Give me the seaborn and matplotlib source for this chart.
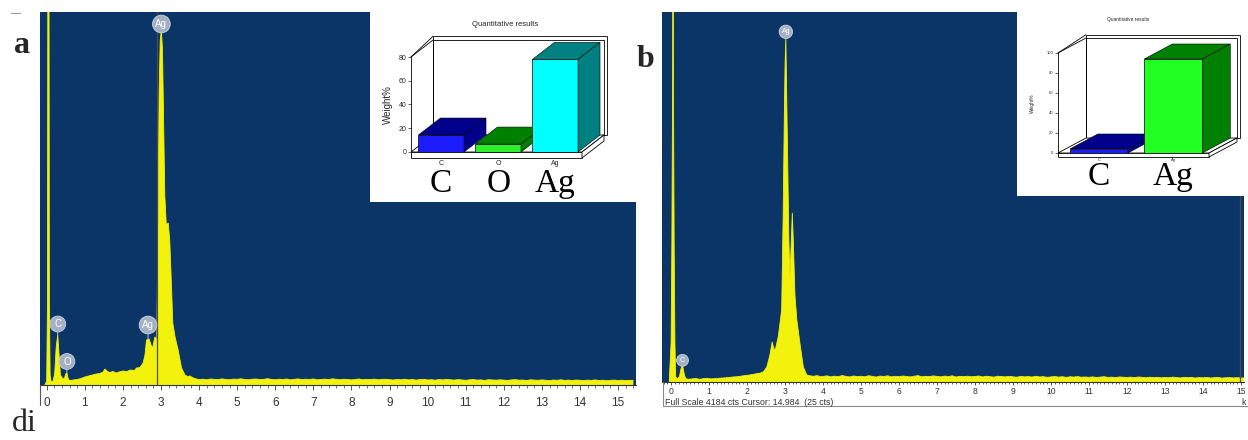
import numpy as np
import matplotlib.pyplot as plt
import matplotlib.font_manager as fm
import matplotlib.transforms as mtransforms
from matplotlib.lines import Line2D
from matplotlib.patches import Polygon, Rectangle
from matplotlib.ticker import MultipleLocator
import seaborn as sns

# ── Data: spectrum a (keV, counts) ────────────────────────────────────────────
energy_a_peak = [-0.05, 0.00, 0.02, 0.035, 0.055, 0.07, 0.09, 0.12, 0.17, 0.21, 0.25, 0.29,
                 0.32, 0.36, 0.41, 0.46, 0.50, 0.53, 0.57, 0.62, 0.70, 0.80, 0.90, 1.00,
                 1.10, 1.20, 1.30, 1.40, 1.48, 1.53, 1.58, 1.65, 1.74, 1.82, 1.90, 2.00,
                 2.10, 2.20, 2.30, 2.36, 2.45, 2.53, 2.58, 2.62, 2.69, 2.74, 2.78, 2.84,
                 2.89, 2.92, 2.95, 2.98, 3.01, 3.04, 3.07, 3.10, 3.14, 3.19, 3.23, 3.27,
                 3.31, 3.37, 3.45, 3.54, 3.63, 3.70, 3.76, 3.85, 3.93]
counts_a_peak = [0, 40, 800, 6000, 6000, 800, 100, 30, 40, 120, 380, 500,
                 330, 100, 70, 60, 110, 120, 55, 45, 50, 55, 65, 80,
                 90, 100, 110, 115, 130, 160, 140, 125, 135, 120, 130, 140,
                 135, 150, 145, 170, 175, 220, 300, 450, 460, 400, 370, 480,
                 450, 1500, 2900, 3450, 3550, 3350, 2600, 1900, 1600, 1620, 1450, 1050,
                 620, 480, 350, 170, 100, 85, 90, 70, 60]
# background channels 4.0 .. 15.4 keV every 0.1 keV
energy_a_bg = np.round(np.arange(4.0, 15.45, 0.1), 2)
counts_a_bg = [55, 58, 52, 60, 57, 54, 61, 56, 53, 59,
               57, 62, 55, 52, 58, 60, 54, 57, 63, 56,
               53, 58, 55, 60, 52, 57, 61, 54, 58, 55,
               60, 52, 56, 59, 54, 62, 57, 53, 58, 55,
               51, 56, 60, 53, 57, 54, 59, 52, 56, 58,
               53, 50, 56, 52, 58, 51, 55, 49, 54, 57,
               50, 53, 48, 55, 51, 56, 52, 49, 54, 50,
               47, 52, 55, 49, 51, 46, 53, 50, 48, 52,
               49, 46, 51, 54, 48, 50, 45, 52, 49, 47,
               51, 48, 44, 50, 47, 52, 46, 49, 45, 50,
               47, 44, 49, 46, 51, 45, 48, 43, 47, 49,
               45, 48, 44, 47, 46]
full_scale_a = 3730
cursor_a = 2.89
peak_names_a = ["C", "O", "Ag", "Ag"]
peak_e_a = [0.29, 0.53, 2.66, 3.01]
peak_top_a = [500, 120, 460, 3550]
peak_tag_a = [610, 235, 600, 3610]

# ── Data: spectrum b ──────────────────────────────────────────────────────────
energy_b_peak = [-0.05, 0.00, 0.02, 0.04, 0.05, 0.06, 0.08, 0.10, 0.12, 0.16, 0.22, 0.26,
                 0.30, 0.34, 0.38, 0.45, 0.55, 0.65, 0.75, 0.85, 0.95, 1.05, 1.20, 1.35,
                 1.50, 1.63, 1.75, 1.90, 2.08, 2.20, 2.34, 2.43, 2.52, 2.60, 2.66, 2.70,
                 2.74, 2.82, 2.91, 2.95, 2.98, 3.00, 3.02, 3.04, 3.07, 3.10, 3.13, 3.16,
                 3.19, 3.22, 3.26, 3.31, 3.39, 3.48, 3.57, 3.65, 3.75, 3.85, 3.93]
counts_b_peak = [0, 450, 1580, 3500, 6000, 3500, 1580, 450, 60, 35, 60, 150,
                 195, 100, 40, 30, 35, 40, 30, 38, 42, 35, 40, 45,
                 50, 57, 60, 70, 80, 90, 100, 115, 170, 305, 452, 380,
                 362, 510, 815, 1900, 3000, 3600, 3890, 3300, 2400, 1600, 1190, 1550,
                 1910, 1550, 980, 700, 440, 170, 80, 70, 65, 72, 60]
energy_b_bg = np.round(np.arange(4.0, 15.15, 0.1), 2)
counts_b_bg = [62, 70, 58, 66, 60, 73, 64, 57, 68, 61,
               65, 59, 71, 63, 56, 67, 62, 70, 58, 64,
               60, 68, 63, 57, 66, 72, 59, 64, 61, 69,
               63, 58, 67, 61, 70, 56, 64, 60, 66, 59,
               62, 68, 57, 65, 60, 55, 66, 61, 58, 64,
               59, 54, 63, 58, 61, 56, 65, 57, 60, 53,
               58, 62, 55, 60, 52, 59, 56, 61, 54, 57,
               53, 58, 51, 56, 60, 52, 55, 50, 57, 54,
               51, 55, 49, 57, 52, 48, 54, 50, 53, 47,
               52, 48, 55, 50, 46, 53, 49, 51, 45, 50,
               47, 52, 45, 49, 51, 44, 48, 50, 46, 49,
               45, 47]
full_scale_b = 4184
cursor_b = 14.984
cursor_cts_b = 25
peak_names_b = ["C", "Ag"]
peak_e_b = [0.30, 3.02]
peak_top_b = [195, 3890]
peak_tag_b = [245, 3960]

# ── Data: quantitative insets (Weight%) ───────────────────────────────────────
cats_a = ["C", "O", "Ag"]
wt_a = [14.3, 6.7, 78.0]
cats_b = ["C", "Ag"]
wt_b = [4.0, 94.0]

# ── Style ─────────────────────────────────────────────────────────────────────
W, H = 1248, 440
BLUE = "#0b3567"
YELLOW = "#f2f20c"
sns.set_theme(style="white")
names = {f.name for f in fm.fontManager.ttflist}
NARROW = "Liberation Sans Narrow" if "Liberation Sans Narrow" in names else "Liberation Sans"
plt.rcParams["font.family"] = [NARROW, "DejaVu Sans"]
SERIF = ["Liberation Serif", "DejaVu Serif"]
SANS = ["Liberation Sans", "DejaVu Sans"]


def box(x0, y0, x1, y1):
    return [x0 / W, 1 - y1 / H, (x1 - x0) / W, (y1 - y0) / H]


fig = plt.figure(figsize=(W / 100, H / 100), dpi=100, facecolor="white")


def spectrum(rect, energy, counts, full, xlim, cursor, minor, tsize, tlen, tpad,
             names_, pe, ptop, ptag, fsize, bpad):
    ax = fig.add_axes(rect)
    ax.set_facecolor(BLUE)
    sns.lineplot(x=energy, y=counts, ax=ax, color=YELLOW, lw=0.6)
    ax.fill_between(energy, counts, 0, color=YELLOW, lw=0)
    ax.axvline(cursor, color="#4b4b4b", lw=0.9, zorder=4)
    ax.set_xlim(*xlim)
    ax.set_ylim(0, full)
    ax.set_yticks([])
    ax.set_xlabel("")
    ax.set_ylabel("")
    for s in ["top", "right", "left"]:
        ax.spines[s].set_visible(False)
    ax.spines["bottom"].set_color("#333333")
    ax.spines["bottom"].set_linewidth(0.8)
    ax.xaxis.set_major_locator(MultipleLocator(1))
    ax.xaxis.set_minor_locator(MultipleLocator(minor))
    ax.tick_params(axis="x", which="major", bottom=True, direction="out", length=tlen,
                   width=0.7, color="#555555", labelsize=tsize, labelcolor="#333333", pad=tpad)
    ax.tick_params(axis="x", which="minor", bottom=True, direction="out", length=tlen * 0.7,
                   width=0.6, color="#555555")
    for n, e, t, g in zip(names_, pe, ptop, ptag):
        ax.annotate(n, xy=(e, t), xytext=(e, g), ha="center", va="center",
                    fontsize=fsize, color="white", family=SANS, zorder=6,
                    bbox=dict(boxstyle=f"circle,pad={bpad}", fc="#a6b0c4", ec="#ccd3df", lw=0.6),
                    arrowprops=dict(arrowstyle="-", color="#b8c0cf", lw=0.7,
                                    shrinkA=0, shrinkB=0))
    return ax


ax_a = spectrum(box(40, 12, 636, 385), list(energy_a_peak) + list(energy_a_bg),
                counts_a_peak + counts_a_bg, full_scale_a, (-0.176, 15.47), cursor_a,
                0.2, 8.5, 3.5, 5, peak_names_a, peak_e_a, peak_top_a, peak_tag_a, 7, 0.3)
ax_b = spectrum(box(662, 12, 1244, 382), list(energy_b_peak) + list(energy_b_bg),
                counts_b_peak + counts_b_bg, full_scale_b, (-0.24, 15.08), cursor_b,
                0.1, 6.2, 2.0, 1.5, peak_names_b, peak_e_b, peak_top_b, peak_tag_b, 5, 0.35)


def bars_3d(rect_bg, rect, cats, vals, fronts, backs, ymax, ystep, xlim, dx, dy, floor_t,
            width, title, title_xy, title_size, tick_size, xtick_pad, lab_size,
            big_y, ylabel_size, ylabel_pad):
    bg = fig.add_axes(rect_bg)
    bg.set_facecolor("white")
    bg.set_xticks([])
    bg.set_yticks([])
    for s in bg.spines.values():
        s.set_visible(False)

    ax = fig.add_axes(rect)
    ax.set_facecolor("none")
    sns.barplot(x=cats, y=vals, hue=cats, palette=fronts, width=width, saturation=1,
                edgecolor="black", linewidth=0.5, legend=False, ax=ax)
    ax.set_xlim(*xlim)
    ax.set_ylim(0, ymax)
    xl, xr = xlim
    # back wall with a thin rim
    kw = dict(fill=False, ec="black", lw=0.6, clip_on=False, zorder=1)
    ax.add_patch(Rectangle((xl + dx, dy), xr - xl, ymax, **kw))
    ax.add_patch(Rectangle((xl + dx, dy), xr - xl + dx * 0.12, ymax + dy * 0.22, **kw))
    ax.add_line(Line2D([xl, xl + dx], [ymax, ymax + dy], color="black", lw=0.6, clip_on=False))
    ax.add_line(Line2D([xl, xl + dx], [ymax, ymax + dy * 1.22], color="black", lw=0.6,
                       clip_on=False))
    # floor slab
    fk = dict(fc="white", ec="black", lw=0.6, clip_on=False, zorder=2)
    ax.add_patch(Polygon([(xl, 0), (xr, 0), (xr + dx, dy), (xl + dx, dy)], **fk))
    ax.add_patch(Polygon([(xl, -floor_t), (xr, -floor_t), (xr, 0), (xl, 0)], **fk))
    ax.add_patch(Polygon([(xr, -floor_t), (xr + dx, dy - floor_t), (xr + dx, dy), (xr, 0)], **fk))
    # bar tops and sides
    bars = sorted(ax.patches[:len(cats)], key=lambda p: p.get_x())
    for i, (p, dark) in enumerate(zip(bars, backs)):
        x0, w, v = p.get_x(), p.get_width(), p.get_height()
        p.set_zorder(3 + 2 * i)
        pk = dict(fc=dark, ec="black", lw=0.4, clip_on=False, zorder=4 + 2 * i)
        ax.add_patch(Polygon([(x0, v), (x0 + w, v), (x0 + w + dx, v + dy), (x0 + dx, v + dy)], **pk))
        ax.add_patch(Polygon([(x0 + w, 0), (x0 + w + dx, dy), (x0 + w + dx, v + dy), (x0 + w, v)], **pk))

    for s in ["top", "right", "bottom"]:
        ax.spines[s].set_visible(False)
    ax.spines["left"].set_color("black")
    ax.spines["left"].set_linewidth(0.6)
    ax.set_yticks(np.arange(0, ymax + 1, ystep))
    ax.tick_params(axis="y", left=True, length=2, width=0.5, labelsize=tick_size, pad=1.5,
                   labelfontfamily=SANS)
    ax.set_xticks(range(len(cats)))
    ax.set_xticks([i + 0.5 for i in range(len(cats) - 1)], minor=True)
    ax.tick_params(axis="x", which="major", length=0, labelsize=tick_size, pad=xtick_pad,
                   labelfontfamily=SANS)
    ax.tick_params(axis="x", which="minor", bottom=True, direction="out", length=3,
                   width=0.5, color="black")
    ax.set_xlabel("")
    ax.set_ylabel("Weight%", fontsize=ylabel_size, family=SANS, labelpad=ylabel_pad)
    fig.text(title_xy[0] / W, 1 - title_xy[1] / H, title, fontsize=title_size, family=SANS,
             ha="center", va="center", color="#222222")
    tr = mtransforms.blended_transform_factory(ax.transData, fig.transFigure)
    for i, c in enumerate(cats):
        ax.text(i, 1 - big_y / H, c, transform=tr, ha="center", va="baseline",
                fontsize=lab_size, family=SERIF, color="black", clip_on=False)
    return ax


bars_3d(box(370, 12, 636, 202), box(411, 57, 582, 152), cats_a, wt_a,
        ["#1c1cff", "#2cf02c", "#00ffff"], ["#00008c", "#008000", "#008080"],
        80, 20, (-0.53, 2.47), 0.386, 14.3, 5.0, 0.8,
        "Quantitative results", (505, 24), 5.5, 5, 5.5, 24, 192, 7, 4)
bars_3d(box(1017, 12, 1248, 196), box(1058, 53, 1209, 153), cats_b, wt_b,
        ["#1c1cff", "#22ff22"], ["#00008c", "#008000"],
        100, 20, (-0.55, 1.48), 0.376, 15.0, 4.0, 0.78,
        "Quantitative results", (1128, 20), 3.5, 3, 3.5, 24, 185, 3.5, 8)

# ── Panel letters and frame bits ──────────────────────────────────────────────
fig.text(22 / W, 1 - 53 / H, "a", fontsize=23, fontweight="bold", family=SERIF,
         ha="center", va="baseline")
fig.text(645 / W, 1 - 67 / H, "b", fontsize=23, fontweight="bold", family=SERIF,
         ha="center", va="baseline")
fig.text(12 / W, 1 - 431 / H, "di", fontsize=23, family=SERIF, ha="left", va="baseline")
fig.add_artist(Line2D([11 / W, 20 / W], [1 - 13 / H] * 2, color="#999999", lw=0.8))
fig.add_artist(Line2D([40 / W, 40 / W], [1 - 385 / H, 1 - 405 / H], color="#555555", lw=0.8))
fig.add_artist(Line2D([663 / W, 663 / W], [1 - 382 / H, 1 - 406 / H], color="#8a8a8a", lw=0.8))
fig.add_artist(Line2D([663 / W, 1 - 0.5 / W], [1 - 406 / H] * 2, color="#8a8a8a", lw=0.8))
fig.text(665 / W, 1 - 402 / H,
         f"Full Scale {full_scale_b} cts Cursor: {cursor_b:.3f}  ({cursor_cts_b} cts)",
         fontsize=6.3, color="#333333", ha="left", va="center")
fig.text(1241 / W, 1 - 402 / H, "k", fontsize=6.3, color="#333333", ha="left", va="center")

fig.savefig("out.png", dpi=100, facecolor="white")
